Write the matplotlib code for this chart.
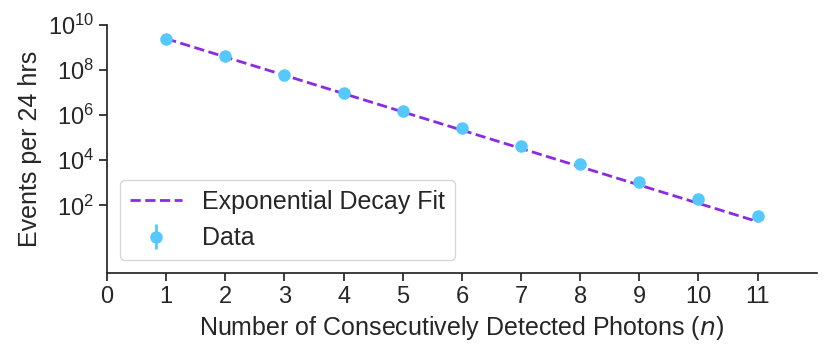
import matplotlib
matplotlib.use("Agg")
import matplotlib.pyplot as plt
import seaborn as sns

n_vals = [1, 2, 3, 4, 5, 6, 7, 8, 9, 10, 11]
events = [2.5e9, 4.2e8, 6.0e7, 9.8e6, 1.5e6, 2.6e5, 4.3e4, 7.0e3, 1.1e3, 1.9e2, 32]
events_err = [0, 0, 0, 0, 0, 0, 0, 0, 0, 0, 0]

# fit line end points (straight on log scale)
fit_n = [1, 11]
fit_events = [2.5e9, 19]

sns.set_theme(style="ticks")
plt.rcParams['font.family'] = ['Liberation Sans', 'DejaVu Sans']

fig, ax = plt.subplots(figsize=(8.3, 3.54), dpi=100)

ax.plot(fit_n, fit_events, '--', color='#8a2be2', lw=2, label='Exponential Decay Fit', zorder=2)
ax.errorbar(n_vals, events, yerr=events_err, fmt='o', color='#55c8ff', ms=8,
            elinewidth=2, label='Data', zorder=3)

ax.set_yscale('log')
ax.set_ylim(1e-1, 1e10)
ax.set_yticks([1e2, 1e4, 1e6, 1e8, 1e10])
ax.minorticks_off()
ax.set_xlim(0, 12)
ax.set_xticks(range(0, 12))

ax.tick_params(labelsize=17)
ax.set_xlabel("Number of Consecutively Detected Photons ($\\it{n}$)", fontsize=18)
ax.set_ylabel("Events per 24 hrs", fontsize=18)
sns.despine(ax=ax)

ax.legend(loc='lower left', fontsize=18, borderaxespad=0.5, handlelength=2.1)

fig.subplots_adjust(left=0.129, right=0.984, top=0.929, bottom=0.229)
fig.savefig("out.png")
